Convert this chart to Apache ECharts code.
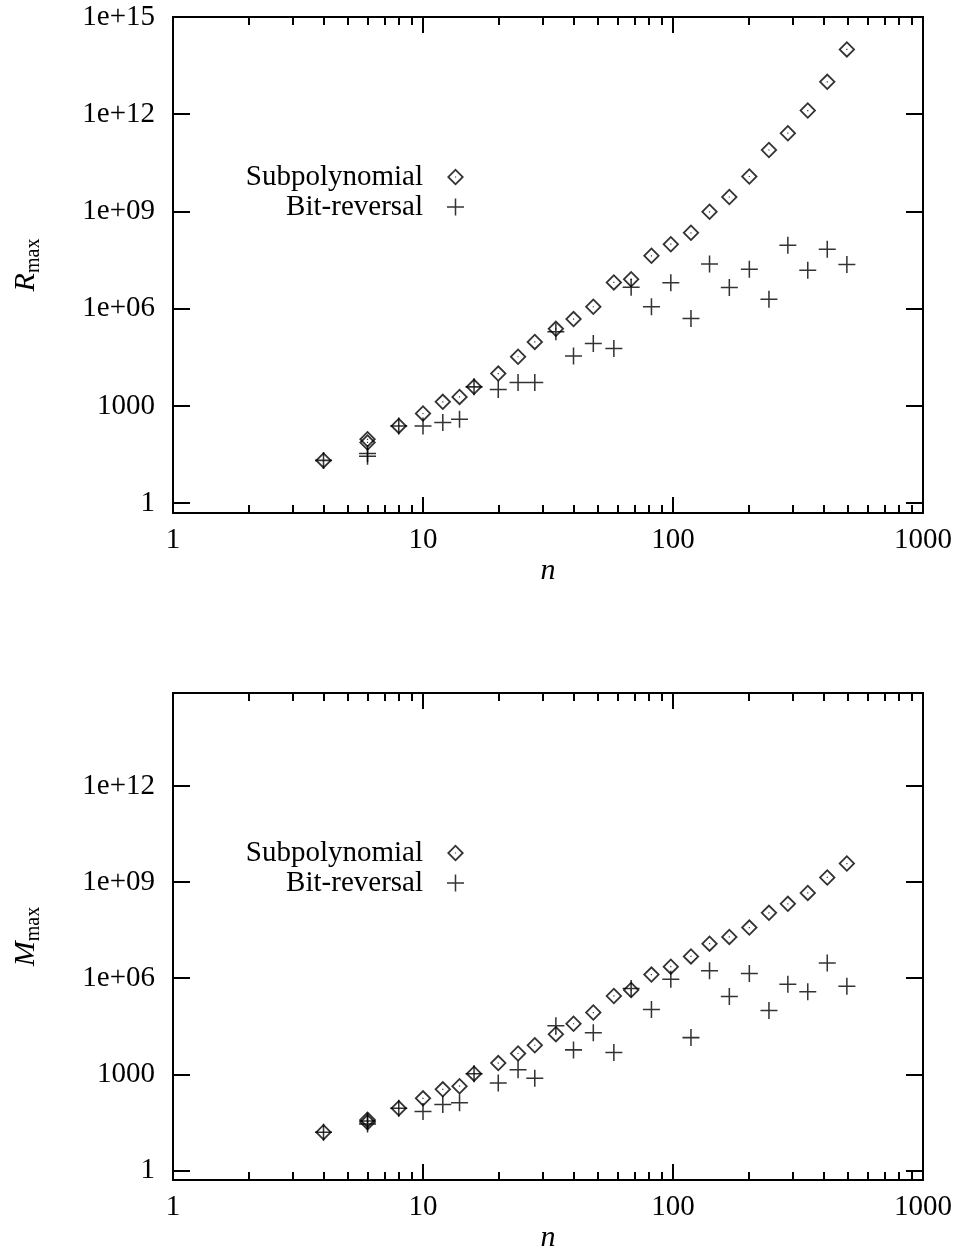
<!DOCTYPE html>
<html>
<head>
<meta charset="utf-8">
<title>R_max / M_max vs n</title>
<script src="https://cdn.jsdelivr.net/npm/echarts@6/dist/echarts.min.js"></script>
<style>
    html, body { margin: 0; padding: 0; background: #fff; }
    #chart { width: 959px; height: 1254px; }
</style>
</head>
<body>
<div id="chart"></div>
<script>
    // n values (6 appears twice)
    var nValues = [4, 6, 6, 8, 10, 12, 14, 16, 20, 24, 28, 34, 40, 48, 58, 68, 82, 98, 118, 140, 168, 202, 242, 288, 346, 414, 496];

    // top panel: R_max
    var rSubpoly = [21, 94, 75, 243, 586, 1340, 1910, 3890, 1.0e4, 3.3e4, 9.5e4, 2.4e5, 4.8e5, 1.15e6, 6.5e6, 8.1e6,
        4.3e7, 9.8e7, 2.2e8, 9.8e8, 2.8e9, 1.2e10, 7.9e10, 2.6e11, 1.3e12, 1.0e13, 1.0e14];
    var rBitrev = [21, 34, 28, 243, 243, 310, 390, 3890, 3240, 5300, 5300, 1.95e5, 3.5e4, 8.5e4, 5.9e4, 4.6e6,
        1.15e6, 6.3e6, 5.0e5, 2.4e7, 4.5e6, 1.66e7, 1.95e6, 9.1e7, 1.55e7, 6.8e7, 2.3e7];

    // bottom panel: M_max
    var mSubpoly = [15.5, 38, 32, 87, 178, 340, 427, 1050, 2240, 4470, 8100, 1.8e4, 3.8e4, 8.5e4, 2.8e5, 4.3e5,
        1.3e6, 2.3e6, 4.8e6, 1.2e7, 1.95e7, 3.8e7, 1.1e8, 2.1e8, 4.6e8, 1.4e9, 3.8e9];
    var mBitrev = [15.5, 35, 28, 87, 69, 115, 129, 1050, 540, 1400, 760, 3.3e4, 5800, 2.0e4, 4800, 4.8e5,
        1.05e5, 9.3e5, 1.4e4, 1.7e6, 2.7e5, 1.4e6, 9.8e4, 6.5e5, 3.8e5, 3.0e6, 5.6e5];

    var xMajorTicks = [1, 10, 100, 1000];
    var xMinorTicks = [2, 3, 4, 5, 6, 7, 8, 9, 20, 30, 40, 50, 60, 70, 80, 90, 200, 300, 400, 500, 600, 700, 800, 900];
    var yTicks = [1, 1e3, 1e6, 1e9, 1e12, 1e15];

    var FONT = '"Liberation Serif", "DejaVu Serif", serif';
    var DIAMOND = 'path://M50,0L100,50L50,100L0,50Z M50,15L15,50L50,85L85,50Z M46.5,46.5L53.5,46.5L53.5,53.5L46.5,53.5Z';
    var PLUS = 'path://M45.5,0L54.5,0L54.5,45.5L100,45.5L100,54.5L54.5,54.5L54.5,100L45.5,100L45.5,54.5L0,54.5L0,45.5L45.5,45.5Z';

    function pairs(ys) {
        return nValues.map(function (n, i) { return [n, ys[i]]; });
    }

    function fmtY(v) {
        if (v < 1e4) return String(Math.round(v));
        var e = Math.round(Math.log10(v));
        return '1e+' + (e < 10 ? '0' : '') + e;
    }

    function xAxisDef(grid, pos, ticks, len, withLabels) {
        var ax = {
            gridIndex: grid,
            type: 'log',
            logBase: 10,
            min: 1,
            max: 1000,
            position: pos,
            axisLine: { show: false },
            splitLine: { show: false },
            axisTick: { show: true, inside: true, length: len, customValues: ticks,
                lineStyle: { color: '#000', width: 2 } },
            axisLabel: { show: false }
        };
        if (withLabels) {
            ax.axisLabel = { show: true, customValues: xMajorTicks, margin: 13, color: '#000',
                fontFamily: FONT, fontSize: 29,
                formatter: function (v) { return String(Math.round(v)); } };
            ax.name = 'n';
            ax.nameLocation = 'middle';
            ax.nameGap = 34;
            ax.nameTextStyle = { color: '#000', fontFamily: FONT, fontSize: 30, fontStyle: 'italic' };
        }
        return ax;
    }

    function yAxisDef(grid, pos, maxV, letter) {
        var ax = {
            gridIndex: grid,
            type: 'log',
            logBase: 10,
            min: 0.5,
            max: maxV,
            position: pos,
            axisLine: { show: false },
            splitLine: { show: false },
            axisTick: { show: true, inside: true, length: 17, customValues: yTicks,
                lineStyle: { color: '#000', width: 2 } },
            axisLabel: { show: false }
        };
        if (letter) {
            ax.axisLabel = { show: true, customValues: yTicks, margin: 18, color: '#000',
                fontFamily: FONT, fontSize: 29, formatter: fmtY };
            ax.name = '{r|' + letter + '}{s|max}';
            ax.nameLocation = 'middle';
            ax.nameGap = 132;
            ax.nameTextStyle = {
                rich: {
                    r: { color: '#000', fontFamily: FONT, fontSize: 30, fontStyle: 'italic',
                        verticalAlign: 'top', lineHeight: 30 },
                    s: { color: '#000', fontFamily: FONT, fontSize: 20,
                        verticalAlign: 'top', lineHeight: 20, padding: [13, 0, 0, 0] }
                }
            };
        }
        return ax;
    }

    function legendDef(top) {
        return {
            orient: 'vertical',
            align: 'right',
            right: 495,
            top: top,
            padding: 0,
            itemGap: 0,
            itemWidth: 17,
            itemHeight: 17,
            selectedMode: false,
            textStyle: { color: '#000', fontFamily: FONT, fontSize: 29, lineHeight: 30,
                padding: [0, 19, 0, 0] },
            data: [
                { name: 'Subpolynomial', icon: DIAMOND },
                { name: 'Bit-reversal', icon: PLUS }
            ]
        };
    }

    function scatter(name, sym, xi, yi, ys) {
        return {
            name: name,
            type: 'scatter',
            xAxisIndex: xi,
            yAxisIndex: yi,
            symbol: sym,
            symbolSize: 17,
            itemStyle: { color: '#000' },
            emphasis: { disabled: true },
            data: pairs(ys)
        };
    }

    var myChart = echarts.init(document.getElementById('chart'));

    var option = {
        backgroundColor: '#fff',
        animation: false,
        grid: [
            { left: 173, top: 17, width: 750, height: 496, show: true, borderColor: '#000', borderWidth: 2 },
            { left: 173, top: 693, width: 750, height: 494, show: true, borderColor: '#000', borderWidth: 2 }
        ],
        xAxis: [
            xAxisDef(0, 'bottom', xMajorTicks, 16, true),
            xAxisDef(0, 'bottom', xMinorTicks, 8, false),
            xAxisDef(0, 'top', xMajorTicks, 16, false),
            xAxisDef(0, 'top', xMinorTicks, 8, false),
            xAxisDef(1, 'bottom', xMajorTicks, 16, true),
            xAxisDef(1, 'bottom', xMinorTicks, 8, false),
            xAxisDef(1, 'top', xMajorTicks, 16, false),
            xAxisDef(1, 'top', xMinorTicks, 8, false)
        ],
        yAxis: [
            yAxisDef(0, 'left', 1.000001e15, 'R'),
            yAxisDef(0, 'right', 1.000001e15, null),
            yAxisDef(1, 'left', 8e14, 'M'),
            yAxisDef(1, 'right', 8e14, null)
        ],
        legend: [legendDef(162), legendDef(838)],
        series: [
            scatter('Subpolynomial', DIAMOND, 0, 0, rSubpoly),
            scatter('Bit-reversal', PLUS, 0, 0, rBitrev),
            scatter('Subpolynomial', DIAMOND, 4, 2, mSubpoly),
            scatter('Bit-reversal', PLUS, 4, 2, mBitrev)
        ]
    };

    myChart.setOption(option);
</script>
</body>
</html>
